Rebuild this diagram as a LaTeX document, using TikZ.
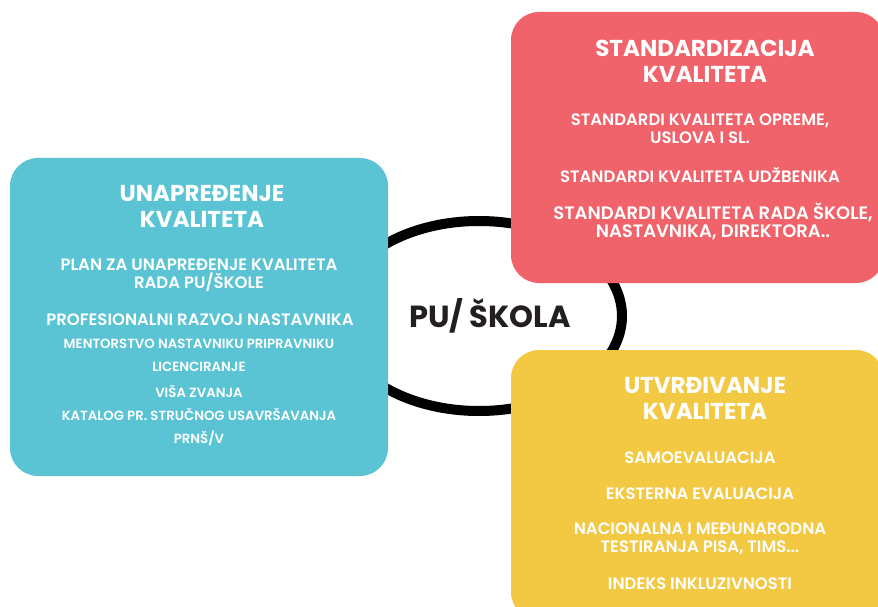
\documentclass[tikz,border=0pt]{standalone}
\usepackage{fontspec}
\usetikzlibrary{shapes.geometric}
\setmainfont{Poppins}
\newfontfamily\popsemi{Poppins SemiBold}
\newfontfamily\popmed{Poppins Medium}
\definecolor{cblue}{RGB}{90,196,213}
\definecolor{cred}{RGB}{240,99,107}
\definecolor{cyel}{RGB}{243,201,68}
\definecolor{ink}{RGB}{35,31,32}
\begin{document}
\begin{tikzpicture}[x=1pt,y=-1pt,
  box/.style={rounded corners=28pt},
  ttl/.style={text=white,font=\fontsize{23}{26}\selectfont\bfseries,align=center,inner sep=0pt},
  itm/.style={text=white,font=\fontsize{16.5}{18}\selectfont\popsemi,align=center,inner sep=0pt},
  itmb/.style={text=white,font=\fontsize{18}{18}\selectfont\popsemi,align=center,inner sep=0pt},
  big/.style={text=white,font=\fontsize{16.5}{18}\selectfont\popsemi,align=center,inner sep=0pt},
  sml/.style={text=white,font=\fontsize{13.3}{15}\selectfont\popsemi,align=center,inner sep=0pt}]
\useasboundingbox (0,0) rectangle (878,607);
\clip (0,0) rectangle (878,607);
\fill[white] (0,0) rectangle (878,607);
% center ellipse
\node[draw=black,line width=10pt,ellipse,minimum width=286pt,minimum height=190pt,inner sep=0pt] (ring) at (479,316) {};
% boxes
\fill[cblue,box] (10,158) rectangle (388,476);
\fill[cred,box] (511,12) rectangle (884,283);
\fill[cyel,box] (511,350) rectangle (884,620);
% center text
\node[text=ink,font=\fontsize{30.5}{32}\selectfont\bfseries] (school) at (490,316) {PU/ ŠKOLA};
% blue texts
\node[ttl] (bt) at (202,206) {UNAPREĐENJE\\KVALITETA};
\node[itm] (b1) at (199,275) {PLAN ZA UNAPREĐENJE KVALITETA\\RADA PU/ŠKOLE};
\node[big] (b2) at (200,320) {PROFESIONALNI RAZVOJ NASTAVNIKA};
\node[sml] (b3) at (199,344) {MENTORSTVO NASTAVNIKU PRIPRAVNIKU};
\node[sml] (b4) at (199,367) {LICENCIRANJE};
\node[sml] (b5) at (199,391) {VIŠA ZVANJA};
\node[sml] (b6) at (199,414) {KATALOG PR. STRUČNOG USAVRŠAVANJA};
\node[sml] (b7) at (199,438) {PRNŠ/V};
% red texts
\node[ttl] (rt) at (705,61) {STANDARDIZACIJA\\KVALITETA};
\node[itm] (r1) at (700,129) {STANDARDI KVALITETA OPREME,\\USLOVA I SL.};
\node[itm] (r2) at (700,175) {STANDARDI KVALITETA UDŽBENIKA};
\node[itmb] (r3) at (713,221) {STANDARDI KVALITETA RADA ŠKOLE,\\NASTAVNIKA, DIREKTORA..};
% yellow texts
\node[ttl] (yt) at (705,398) {UTVRĐIVANJE\\KVALITETA};
\node[itm] (y1) at (700,458) {SAMOEVALUACIJA};
\node[itm] (y2) at (700,494) {EKSTERNA EVALUACIJA};
\node[itm] (y3) at (700,539) {NACIONALNA I MEĐUNARODNA\\TESTIRANJA PISA, TIMS...};
\node[itm] (y4) at (700,584) {INDEKS INKLUZIVNOSTI};
\end{tikzpicture}
\end{document}
